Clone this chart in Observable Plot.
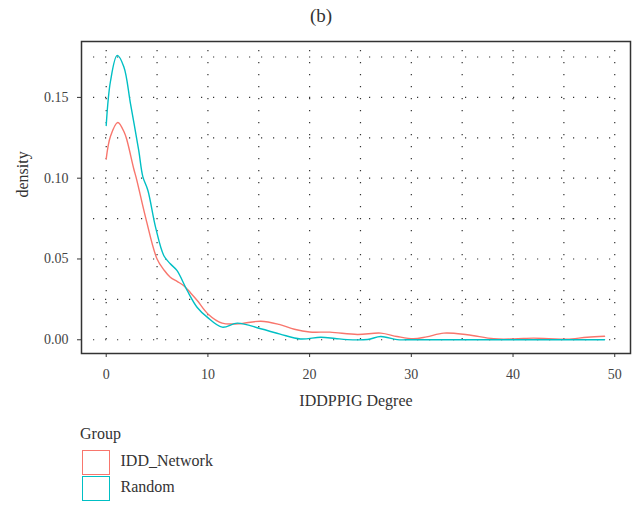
<!DOCTYPE html>
<html>
<head>
<meta charset="utf-8">
<script src="https://cdn.jsdelivr.net/npm/d3@7"></script>
<script src="https://cdn.jsdelivr.net/npm/@observablehq/plot@0.6"></script>
<style>
  html, body { margin: 0; padding: 0; background: #fff; }
  #wrap { position: relative; width: 642px; height: 506px; font-family: "Liberation Serif", serif; color: #222; }
  #wrap svg { position: absolute; left: 0; top: 0; }
  #wrap svg, #wrap svg text, #wrap .abs { font-family: "Liberation Serif", serif !important; }
  .abs { position: absolute; white-space: nowrap; }
</style>
</head>
<body>
<div id="wrap"></div>
<script>
// ---- data ----
const title = "(b)";
const xLabel = "IDDPPIG Degree";
const yLabel = "density";
const legendTitle = "Group";
const groups = ["IDD_Network", "Random"];
const colors = ["#F8766D", "#00BFC4"];

const iddX = [0, 0.42, 1.14, 1.8, 2.06, 2.7, 3.0, 3.9, 5.0, 5.7, 6.3, 7.0, 7.6, 8.3, 8.95, 10.0, 11.4, 13.0, 15.2, 17.0, 18.5, 20.0, 22.0, 24.7, 27.0, 28.6, 30.2, 31.5, 33.2, 35.5, 38.1, 40.1, 42.0, 43.5, 45.3, 47.3, 49.0];
const iddY = [0.112, 0.126, 0.1345, 0.128, 0.123, 0.106, 0.099, 0.075, 0.050, 0.043, 0.0387, 0.036, 0.0336, 0.029, 0.0243, 0.016, 0.0103, 0.0099, 0.0115, 0.0095, 0.0065, 0.0048, 0.0047, 0.0033, 0.0041, 0.002, 0.0006, 0.0018, 0.0041, 0.0031, 0.0006, 0.0005, 0.001, 0.0007, 0.0003, 0.0016, 0.0022];

const rndX = [0, 0.42, 1.08, 1.73, 2.39, 3.2, 3.6, 4.1, 4.85, 5.67, 6.3, 6.95, 7.96, 8.95, 9.93, 11.4, 12.9, 15.2, 17.1, 19.1, 21.1, 22.5, 23.7, 25.7, 27.0, 28.6, 30, 35, 40, 45, 49];
const rndY = [0.1326, 0.160, 0.176, 0.169, 0.146, 0.117, 0.101, 0.0924, 0.0697, 0.052, 0.047, 0.0429, 0.0305, 0.020, 0.014, 0.0078, 0.0103, 0.0068, 0.0035, 0.0005, 0.0016, 0.0008, 0.0001, 0.0002, 0.002, 0.0001, 0, 0, 0, 0, 0];

const xTicks = [0, 10, 20, 30, 40, 50];
const yTicks = [0, 0.05, 0.10, 0.15];
const xGrid = [0, 5, 10, 15, 20, 25, 30, 35, 40, 45, 50];
const yGrid = [0, 0.025, 0.05, 0.075, 0.10, 0.125, 0.15, 0.175];

// ---- build table ----
const rows = [
  ...iddX.map((x, i) => ({x, y: iddY[i], g: groups[0]})),
  ...rndX.map((x, i) => ({x, y: rndY[i], g: groups[1]}))
];

const W = 642, H = 420;
const dots = {stroke: "#333", strokeWidth: 1.2, strokeDasharray: "1.2,10.8"};

const chart = Plot.plot({
  width: W,
  height: H,
  marginLeft: 81,
  marginRight: 12,
  marginTop: 41,
  marginBottom: 67,
  style: {fontFamily: "'Liberation Serif', serif", fontSize: "14px", color: "#444", background: "transparent"},
  x: {domain: [-2.43, 51.55]},
  y: {domain: [-0.0085, 0.1846]},
  color: {domain: groups, range: colors},
  marks: [
    Plot.ruleX(xGrid, {...dots, insetTop: 9, insetBottom: 9}),
    Plot.ruleY(yGrid, {...dots, insetLeft: 12, insetRight: 10}),
    Plot.line(rows, {x: "x", y: "y", stroke: "g", z: "g", strokeWidth: 1.4, curve: "catmull-rom"}),
    Plot.frame({stroke: "#333", strokeWidth: 1.5}),
    Plot.axisX(xTicks, {tickSize: 4, tickPadding: 12, label: null, stroke: "#333", fontSize: 14}),
    Plot.axisY(yTicks, {tickSize: 4, tickPadding: 9, tickFormat: d3.format(".2f"), label: null, stroke: "#333", fontSize: 14}),
    Plot.text([xLabel], {frameAnchor: "bottom", dy: 52, fontSize: 16, fill: "#333"}),
    Plot.text([yLabel], {frameAnchor: "left", dx: -59, rotate: -90, fontSize: 16, fill: "#333"})
  ]
});

const wrap = document.getElementById("wrap");
wrap.appendChild(chart);

function addText(txt, left, top, size, extra) {
  const d = document.createElement("div");
  d.className = "abs";
  d.textContent = txt;
  d.style.left = left + "px";
  d.style.top = top + "px";
  d.style.fontSize = size + "px";
  d.style.lineHeight = size + "px";
  d.style.height = size + "px";
  d.style.color = "#333";
  if (extra) Object.assign(d.style, extra);
  wrap.appendChild(d);
  return d;
}

// title
addText(title, 0, 6, 19, {width: W + "px", textAlign: "center"});

// legend
addText(legendTitle, 80, 425.6, 16);
const swTops = [449.5, 476];
groups.forEach((g, i) => {
  const sw = document.createElement("div");
  sw.className = "abs";
  Object.assign(sw.style, {
    left: "82px", top: swTops[i] + "px", width: "28px", height: "25px",
    border: "1.5px solid " + colors[i], boxSizing: "border-box", background: "#fff"
  });
  wrap.appendChild(sw);
  addText(g, 120.5, [453.3, 479.3][i], 16);
});
</script>
</body>
</html>
